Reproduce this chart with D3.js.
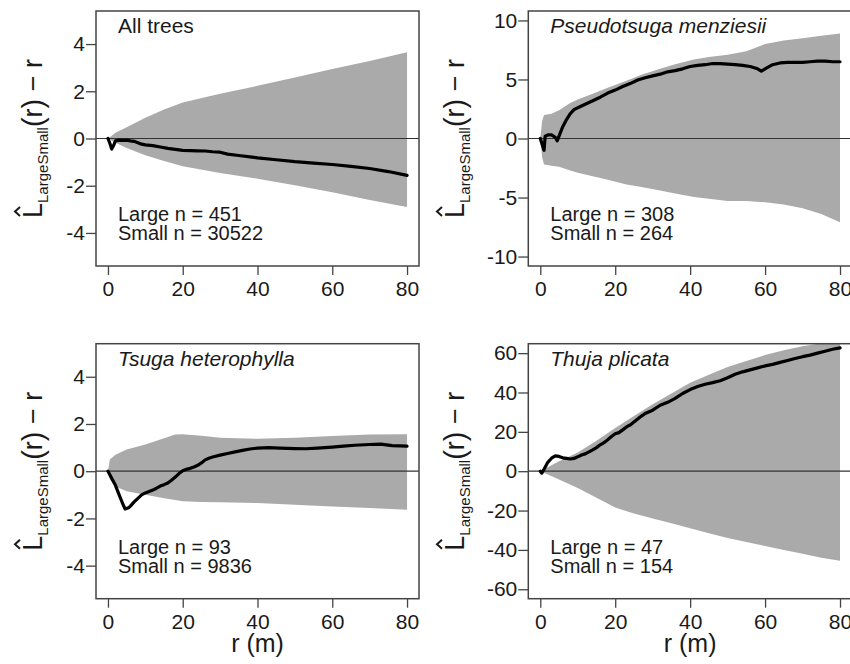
<!DOCTYPE html>
<html><head><meta charset="utf-8">
<script src="https://cdn.jsdelivr.net/npm/d3@7"></script>
<style>
body{margin:0;background:#fff}
svg{display:block}
text{font-family:"Liberation Sans",Arial,Helvetica,sans-serif;fill:#1a1a1a}
</style>
</head><body>
<svg id="c" width="850" height="664"></svg>
<script>
// ---------- data ----------
const rTicks = [0, 20, 40, 60, 80];

// All trees
const allTreesObs = [[0,0],[0.5,-0.2],[1,-0.45],[1.5,-0.3],[2,-0.1],[3,-0.07],[4,-0.08],[5,-0.07],[6,-0.1],[7,-0.12],[8,-0.18],[9,-0.24],[10,-0.27],[12,-0.3],[14,-0.36],[16,-0.42],[18,-0.46],[20,-0.5],[22,-0.51],[24,-0.52],[26,-0.53],[28,-0.56],[30,-0.58],[32,-0.66],[35,-0.72],[38,-0.78],[40,-0.82],[45,-0.9],[50,-0.98],[55,-1.04],[60,-1.1],[65,-1.18],[70,-1.27],[75,-1.4],[80,-1.56]];
const allTreesEnvR  = [0,1,2,5,10,15,20,30,40,50,60,70,80];
const allTreesEnvUp = [0,0.12,0.24,0.48,0.88,1.23,1.52,1.9,2.23,2.58,2.94,3.28,3.65];
const allTreesEnvLo = [0,-0.1,-0.18,-0.4,-0.71,-0.95,-1.18,-1.46,-1.7,-1.98,-2.28,-2.6,-2.9];
const allTreesYTicks = [-4,-2,0,2,4];

// Pseudotsuga menziesii
const psmeObs = [[0,0],[0.5,-0.5],[1,-1.0],[1.3,0.2],[2,0.3],[3,0.3],[4,0.1],[4.5,-0.2],[5,0.2],[6,1.0],[7,1.6],[8,2.1],[9,2.45],[10,2.6],[12,2.9],[14,3.2],[16,3.5],[18,3.85],[20,4.1],[22,4.4],[24,4.65],[26,4.95],[28,5.15],[30,5.3],[32,5.45],[34,5.65],[36,5.75],[38,5.9],[40,6.1],[42,6.2],[44,6.25],[46,6.35],[48,6.35],[50,6.3],[52,6.25],[54,6.2],[56,6.1],[58,5.9],[59,5.7],[60,5.9],[62,6.25],[64,6.4],[66,6.45],[68,6.45],[70,6.45],[72,6.5],[74,6.55],[76,6.55],[78,6.5],[80,6.5]];
const psmeEnvR  = [0,0.5,1,3,5,8,10,14,18,23,27,32,36,41,45,50,55,60,65,70,75,80];
const psmeEnvUp = [0,1.5,2.0,2.1,2.4,3.0,3.3,3.8,4.3,4.9,5.4,5.9,6.3,6.7,6.9,7.1,7.4,8.0,8.3,8.5,8.7,8.9];
const psmeEnvLo = [0,-1.6,-2.2,-2.3,-2.4,-2.7,-2.9,-3.2,-3.5,-3.9,-4.1,-4.4,-4.65,-4.95,-5.1,-5.3,-5.3,-5.4,-5.6,-5.9,-6.4,-7.1];
const psmeYTicks = [-10,-5,0,5,10];

// Tsuga heterophylla
const tsheObs = [[0,0],[1,-0.3],[2,-0.6],[3,-1.0],[4,-1.4],[4.6,-1.6],[5.5,-1.55],[6,-1.48],[7,-1.3],[8,-1.15],[9,-1.0],[10,-0.92],[11,-0.86],[12,-0.8],[13,-0.72],[14,-0.63],[15,-0.57],[16,-0.5],[17,-0.38],[18,-0.25],[19,-0.1],[20,0.02],[21,0.08],[22,0.12],[23,0.18],[24,0.25],[25,0.35],[26,0.48],[27,0.55],[28,0.6],[30,0.68],[32,0.75],[34,0.82],[36,0.88],[38,0.94],[40,0.98],[43,1.0],[46,0.98],[50,0.96],[53,0.95],[56,0.98],[60,1.02],[63,1.06],[66,1.1],[70,1.13],[73,1.15],[76,1.08],[80,1.06]];
const tsheEnvR  = [0,0.5,2,5,10,15,18,20,25,30,40,50,60,70,80];
const tsheEnvUp = [0,0.5,0.7,0.92,1.13,1.4,1.55,1.56,1.5,1.42,1.37,1.42,1.49,1.55,1.56];
const tsheEnvLo = [0,-0.35,-0.65,-0.85,-1.0,-1.15,-1.22,-1.27,-1.3,-1.32,-1.35,-1.42,-1.49,-1.56,-1.63];
const tsheYTicks = [-4,-2,0,2,4];

// Thuja plicata
const thplObs = [[0,0],[0.4,-1],[1,1],[2,4.5],[3,6.6],[4,7.8],[5,7.5],[6,6.8],[7,6.5],[8,6.2],[9,6.5],[10,7.3],[11,8.2],[12,8.8],[13,9.8],[14,10.8],[15,12],[16,13.4],[17,14.5],[18,16],[19,17.6],[20,19],[21,19.6],[22,21],[23,22.5],[24,23.5],[25,25],[26,26.5],[27,28],[28,29.3],[30,31],[32,33.5],[34,35],[36,37],[38,39.5],[40,41.5],[42,43],[44,44.2],[46,45],[48,46],[50,47.5],[52,49.3],[54,50.5],[56,51.5],[58,52.5],[60,53.5],[62,54.3],[64,55.3],[66,56.3],[68,57.3],[70,58.2],[72,59],[74,60],[76,61],[78,62],[80,62.7]];
const thplEnvR  = [0,2,5,10,15,20,25,30,35,40,45,50,55,60,65,70,75,80];
const thplEnvUp = [0,2,5,9.5,15.5,22,28,34,39.5,45,49,53,56,59,61.5,63.5,65,66];
const thplEnvLo = [0,-1.7,-4.2,-8.5,-13.5,-18.5,-21.5,-24,-26.5,-29,-31.5,-34,-36,-38,-40,-42,-44,-45.5];
const thplYTicks = [-60,-40,-20,0,20,40,60];

const titles = ["All trees","Pseudotsuga menziesii","Tsuga heterophylla","Thuja plicata"];
const italicTitle = [false,true,true,true];
const nLarge = [451,308,93,47];
const nSmall = [30522,264,9836,154];
const yLimits = [5,10,5,60];

// ---------- layout ----------
const boxes = [
  {l:96,  t:11,    r:419, b:266,   ylx:42,  xlab:false},
  {l:528.3,t:11,   r:852, b:266,   ylx:464, xlab:false},
  {l:96,  t:343.7, r:419, b:598.7, ylx:42,  xlab:true},
  {l:528.3,t:343.7,r:852, b:598.7, ylx:464, xlab:true}
];
const panelData = [
  {obs:allTreesObs, er:allTreesEnvR, eu:allTreesEnvUp, el:allTreesEnvLo, yt:allTreesYTicks},
  {obs:psmeObs, er:psmeEnvR, eu:psmeEnvUp, el:psmeEnvLo, yt:psmeYTicks},
  {obs:tsheObs, er:tsheEnvR, eu:tsheEnvUp, el:tsheEnvLo, yt:tsheYTicks},
  {obs:thplObs, er:thplEnvR, eu:thplEnvUp, el:thplEnvLo, yt:thplYTicks}
];

const svg = d3.select("#c");
const FS = 21;
const fmt = d => d < 0 ? "-" + Math.abs(d) : String(d);

function yLabel(bx, cy){
  const G = svg.append("g").attr("transform", `translate(${bx},${cy}) rotate(-90)`);
  const parts = [
    {t:"L", fs:27, dy:0},
    {t:"LargeSmall", fs:15, dy:6},
    {t:"(", fs:29, dy:1},
    {t:"r", fs:27, dy:0},
    {t:")", fs:29, dy:1},
    {t:" \u2212 r", fs:27, dy:0}
  ];
  let xc = 0;
  parts.forEach(p => {
    const tx = G.append("text").attr("x", xc).attr("y", p.dy)
      .style("font-size", p.fs + "px").style("white-space","pre").text(p.t);
    p.node = tx; p.x = xc; p.w = tx.node().getComputedTextLength(); xc += p.w;
  });
  const sh = -xc / 2;
  parts.forEach(p => p.node.attr("x", p.x + sh));
  const Lx = parts[0].x + sh, Lw = parts[0].w;
  G.append("path").attr("d", `M${Lx+2},-22 L${Lx+Lw/2-1},-27 L${Lx+Lw-4},-22`)
    .attr("fill","none").attr("stroke","#1a1a1a").attr("stroke-width",2);
}

boxes.forEach((B, i) => {
  const P = panelData[i];
  const L = yLimits[i];
  const x = d3.scaleLinear().domain([-3.2, 83.2]).range([B.l, B.r]);
  const y = d3.scaleLinear().domain([-1.08*L, 1.08*L]).range([B.b, B.t]);
  const g = svg.append("g");
  const cid = "clip" + i;
  svg.append("clipPath").attr("id", cid).append("rect")
    .attr("x", B.l).attr("y", B.t).attr("width", B.r - B.l).attr("height", B.b - B.t);
  const plot = g.append("g").attr("clip-path", `url(#${cid})`);

  const env = P.er.map((r, k) => ({r, up:P.eu[k], lo:P.el[k]}));
  plot.append("path").datum(env)
    .attr("d", d3.area().x(d => x(d.r)).y0(d => y(d.lo)).y1(d => y(d.up)))
    .attr("fill", "#aaaaaa");

  plot.append("line").attr("x1", x(-3.2)).attr("x2", x(83.2))
    .attr("y1", y(0)).attr("y2", y(0)).attr("stroke", "#333").attr("stroke-width", 1.2);

  plot.append("path").datum(P.obs)
    .attr("d", d3.line().x(d => x(d[0])).y(d => y(d[1])))
    .attr("fill","none").attr("stroke","#000").attr("stroke-width",3.2)
    .attr("stroke-linejoin","round").attr("stroke-linecap","round");

  g.append("rect").attr("x", B.l).attr("y", B.t).attr("width", B.r - B.l).attr("height", B.b - B.t)
    .attr("fill","none").attr("stroke","#444").attr("stroke-width",1.5);

  const xa = g.append("g").attr("transform", `translate(0,${B.b})`)
    .call(d3.axisBottom(x).tickValues(rTicks).tickSize(9).tickPadding(6).tickFormat(fmt));
  const ya = g.append("g").attr("transform", `translate(${B.l},0)`)
    .call(d3.axisLeft(y).tickValues(P.yt).tickSize(10).tickPadding(1).tickFormat(fmt));
  [xa, ya].forEach(a => {
    a.select(".domain").remove();
    a.selectAll("line").attr("stroke","#444").attr("stroke-width",1.3);
    a.selectAll("text").style("font-size", FS + "px").attr("fill","#1a1a1a")
      .style("font-family",'"Liberation Sans",Arial,sans-serif');
  });

  g.append("text").attr("x", B.l + 22).attr("y", B.t + 22)
    .style("font-size", "21px").style("font-style", italicTitle[i] ? "italic" : "normal")
    .text(titles[i]);
  g.append("text").attr("x", B.l + 22).attr("y", B.t + 210).style("font-size","20px")
    .text("Large n = " + nLarge[i]);
  g.append("text").attr("x", B.l + 22).attr("y", B.t + 229).style("font-size","20px")
    .text("Small n = " + nSmall[i]);

  yLabel(B.ylx, (B.t + B.b) / 2);
  if (B.xlab) {
    g.append("text").attr("x", (B.l + B.r) / 2).attr("y", 652).attr("text-anchor","middle")
      .style("font-size","25px").text("r (m)");
  }
});
</script>
</body></html>
